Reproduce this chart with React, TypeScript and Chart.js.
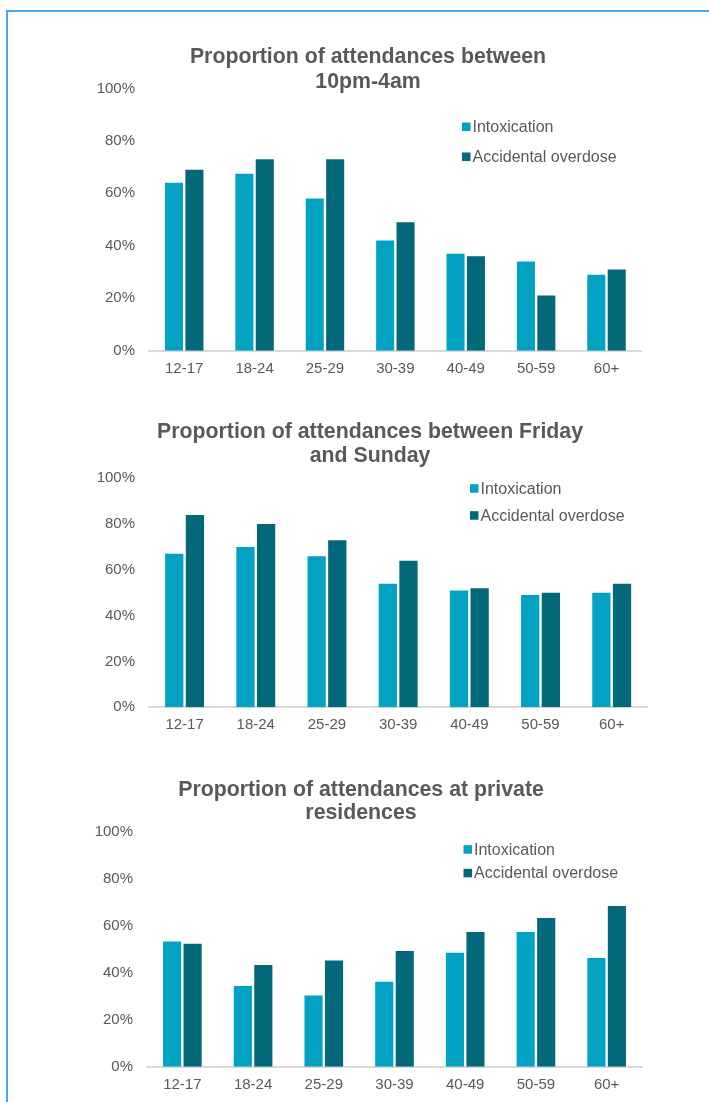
import React, { useEffect, useRef } from 'react';
import { Chart, registerables } from 'chart.js';

Chart.register(...registerables);

// ---------- data ----------
const ageGroups = ['12-17', '18-24', '25-29', '30-39', '40-49', '50-59', '60+'];
const seriesNames = ['Intoxication', 'Accidental overdose'];
const yTickValues = [0, 20, 40, 60, 80, 100];

const lateNightIntoxication = [64, 67.5, 58, 42, 37, 34, 29];
const lateNightOverdose = [69, 73, 73, 49, 36, 21, 31];

const weekendIntoxication = [67, 70, 66, 54, 51, 49, 50];
const weekendOverdose = [84, 80, 73, 64, 52, 50, 54];

const residenceIntoxication = [53.3, 34.4, 30.3, 36.2, 48.5, 57.4, 46.3];
const residenceOverdose = [52.4, 43.3, 45.3, 49.3, 57.4, 63.4, 68.5];

const titleLateNight = ['Proportion of attendances between', '10pm-4am'];
const titleWeekend = ['Proportion of attendances between Friday', 'and Sunday'];
const titleResidence = ['Proportion of attendances at private', 'residences'];

// ---------- styles ----------
const FONT = "'Liberation Sans', Arial, Helvetica, sans-serif";
const TEXT = '#595959';
const INTOX_COLOR = '#02a3c2';
const OVERDOSE_COLOR = '#03687a';
const AXIS_COLOR = '#d9d9d9';
const BORDER_BLUE = '#4aa8e8';
const PAGE_W = 709;
const Y_AXIS_LEFT = 60;

interface PanelProps {
  title: string[];
  intox: number[];
  overdose: number[];
  top: number;
  height: number;
  plotLeft: number;
  plotRight: number;
  plotTop: number;
  plotBottom: number;
  titleX: number;
  titleY: number[];
  legendX: number;
  legendY: number[];
}

function ChartPanel(p: PanelProps) {
  const ref = useRef<HTMLCanvasElement | null>(null);

  useEffect(() => {
    const canvas = ref.current;
    if (!canvas) return;
    const colors = [INTOX_COLOR, OVERDOSE_COLOR];

    const overlay = {
      id: 'overlay' + p.top,
      afterDraw(chart: any) {
        const ctx = chart.ctx;
        ctx.save();
        // title
        ctx.fillStyle = TEXT;
        ctx.font = `bold 21.3px ${FONT}`;
        ctx.textAlign = 'center';
        ctx.textBaseline = 'middle';
        p.title.forEach((line, i) => {
          ctx.fillText(line, p.titleX, p.titleY[i] - p.top);
        });
        // legend
        ctx.font = `16px ${FONT}`;
        ctx.textAlign = 'left';
        chart.data.datasets.forEach((ds: any, i: number) => {
          const cy = p.legendY[i] - p.top;
          ctx.fillStyle = colors[i];
          ctx.fillRect(p.legendX, cy - 4.5, 8.5, 8.5);
          ctx.fillStyle = TEXT;
          ctx.fillText(ds.label, p.legendX + 10.5, cy + 0.5);
        });
        ctx.restore();
      },
    };

    const chart = new Chart(canvas, {
      type: 'bar',
      data: {
        labels: ageGroups,
        datasets: [
          {
            label: seriesNames[0],
            data: p.intox,
            backgroundColor: INTOX_COLOR,
            borderWidth: 0,
            categoryPercentage: 0.58,
            barPercentage: 0.885,
          },
          {
            label: seriesNames[1],
            data: p.overdose,
            backgroundColor: OVERDOSE_COLOR,
            borderWidth: 0,
            categoryPercentage: 0.58,
            barPercentage: 0.885,
          },
        ],
      },
      options: {
        animation: false,
        responsive: false,
        devicePixelRatio: 1,
        layout: {
          padding: {
            top: p.plotTop - p.top,
            left: Y_AXIS_LEFT,
            right: PAGE_W - p.plotRight,
            bottom: 0,
          },
        },
        plugins: {
          legend: { display: false },
          title: { display: false },
          tooltip: { enabled: false },
        },
        scales: {
          x: {
            grid: { display: false, drawTicks: false },
            border: { display: true, color: AXIS_COLOR, width: 2 },
            ticks: {
              color: TEXT,
              font: { family: FONT, size: 15 },
              padding: 9,
              maxRotation: 0,
              autoSkip: false,
            },
            afterFit: (s: any) => {
              s.height = p.top + p.height - p.plotBottom;
            },
          },
          y: {
            min: 0,
            max: 100,
            grid: { display: false, drawTicks: false },
            border: { display: false },
            ticks: {
              color: TEXT,
              font: { family: FONT, size: 15 },
              padding: 14,
              stepSize: 20,
              callback: (v: any) => (yTickValues.includes(Number(v)) ? v + '%' : ''),
            },
            afterFit: (s: any) => {
              s.width = p.plotLeft - Y_AXIS_LEFT;
            },
          },
        },
      },
      plugins: [overlay],
    });
    return () => chart.destroy();
  }, []);

  return (
    <canvas
      ref={ref}
      width={PAGE_W}
      height={p.height}
      style={{
        position: 'absolute',
        left: 0,
        top: p.top,
        width: PAGE_W,
        height: p.height,
        display: 'block',
      }}
    />
  );
}

export default function App() {
  return (
    <div
      style={{
        position: 'absolute',
        left: 0,
        top: 0,
        width: PAGE_W,
        height: 1102,
        background: '#ffffff',
        overflow: 'hidden',
      }}
    >
      <div
        style={{
          position: 'absolute',
          left: 6,
          top: 10,
          right: 0,
          bottom: 0,
          borderTop: `2px solid ${BORDER_BLUE}`,
          borderLeft: `2px solid ${BORDER_BLUE}`,
        }}
      />
      <ChartPanel
        title={titleLateNight}
        intox={lateNightIntoxication}
        overdose={lateNightOverdose}
        top={20}
        height={365}
        plotLeft={149}
        plotRight={641.7}
        plotTop={88.4}
        plotBottom={350.7}
        titleX={368}
        titleY={[57, 82]}
        legendX={462}
        legendY={[127, 157]}
      />
      <ChartPanel
        title={titleWeekend}
        intox={weekendIntoxication}
        overdose={weekendOverdose}
        top={390}
        height={350}
        plotLeft={149}
        plotRight={647.3}
        plotTop={478.3}
        plotBottom={707.3}
        titleX={370}
        titleY={[431.7, 456]}
        legendX={470}
        legendY={[488.7, 515.7]}
      />
      <ChartPanel
        title={titleResidence}
        intox={residenceIntoxication}
        overdose={residenceOverdose}
        top={750}
        height={352}
        plotLeft={147}
        plotRight={642}
        plotTop={832}
        plotBottom={1066.7}
        titleX={361}
        titleY={[790, 813.3]}
        legendX={463.5}
        legendY={[849.7, 873.3]}
      />
    </div>
  );
}
